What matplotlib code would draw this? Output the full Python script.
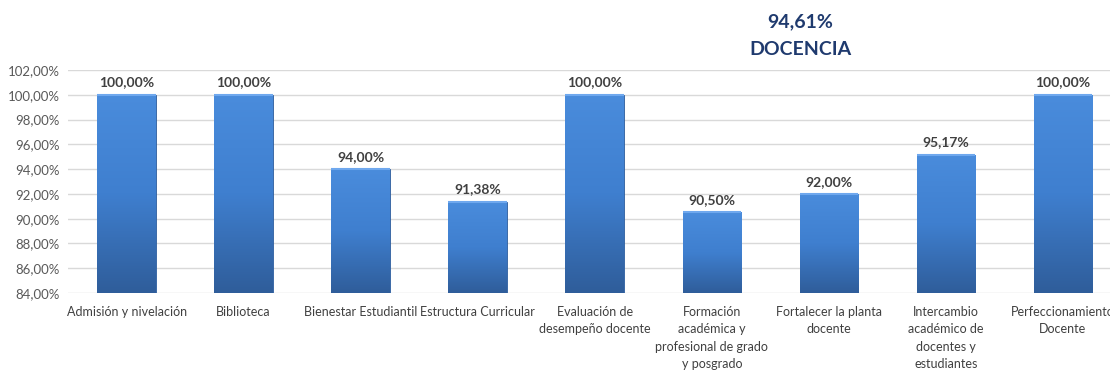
import matplotlib
matplotlib.use("Agg")
import matplotlib.pyplot as plt
import numpy as np
from matplotlib.colors import LinearSegmentedColormap

categories = [
    "Admisión y nivelación",
    "Biblioteca",
    "Bienestar Estudiantil",
    "Estructura Curricular",
    "Evaluación de\ndesempeño docente",
    "Formación\nacadémica y\nprofesional de grado\ny posgrado",
    "Fortalecer la planta\ndocente",
    "Intercambio\nacadémico de\ndocentes y\nestudiantes",
    "Perfeccionamiento\nDocente",
]
values = [100.00, 100.00, 94.00, 91.38, 100.00, 90.50, 92.00, 95.17, 100.00]
total = 94.61
title = "DOCENCIA"
yticks = np.arange(84, 102.1, 2)

plt.rcParams["font.family"] = ["Lato", "DejaVu Sans"]

fig = plt.figure(figsize=(11.1, 3.7), dpi=100)
ax = fig.add_axes([0.0613, 0.208, 0.949, 0.603])

x = np.arange(len(values))
ymin = 84
bars = ax.bar(x, np.array(values) - ymin, bottom=ymin, width=0.5,
              color="#3A75C4", edgecolor="#2E5E9E", linewidth=0.6, zorder=2)

# vertical gradient on each bar
cmap = LinearSegmentedColormap.from_list("bl", ["#2F5D9A", "#3F7FCF", "#4A8CDC"])
grad = np.linspace(0, 1, 256).reshape(-1, 1)
for b, v in zip(bars, values):
    x0 = b.get_x()
    im = ax.imshow(grad, extent=[x0, x0 + b.get_width(), ymin, v], origin="lower",
                   aspect="auto", cmap=cmap, zorder=2.5)
    im.set_clip_path(b)
    ax.plot([x0, x0 + b.get_width()], [v, v], color="#6FA8EE", lw=1.5, zorder=3,
            solid_capstyle="butt")
    ax.text(b.get_x() + b.get_width() / 2, v + 0.5, f"{v:.2f}%".replace(".", ","),
            ha="center", va="bottom", fontsize=10, fontweight="bold", color="#404040")

ax.set_xlim(-0.5, len(values) - 0.5)
ax.set_ylim(84, 102)
ax.set_yticks(yticks)
ax.set_yticklabels([f"{t:.2f}%".replace(".", ",") for t in yticks], fontsize=9.5,
                   color="#595959")
ax.set_xticks(x)
ax.set_xticklabels(categories, fontsize=9, color="#404040", linespacing=1.55, va="top")
ax.tick_params(length=0, pad=6)
ax.tick_params(axis="x", pad=9)
ax.grid(axis="y", color="#D9D9D9", lw=1, zorder=0)
for s in ax.spines.values():
    s.set_visible(False)
ax.set_axisbelow(True)

fig.text(0.721, 0.94, f"{total:.2f}%".replace(".", ","), ha="center", va="center",
         fontsize=14, fontweight="bold", color="#1F3A6E")
fig.text(0.721, 0.865, title, ha="center", va="center",
         fontsize=14, fontweight="bold", color="#1F3A6E")

fig.savefig("out.png", dpi=100)
